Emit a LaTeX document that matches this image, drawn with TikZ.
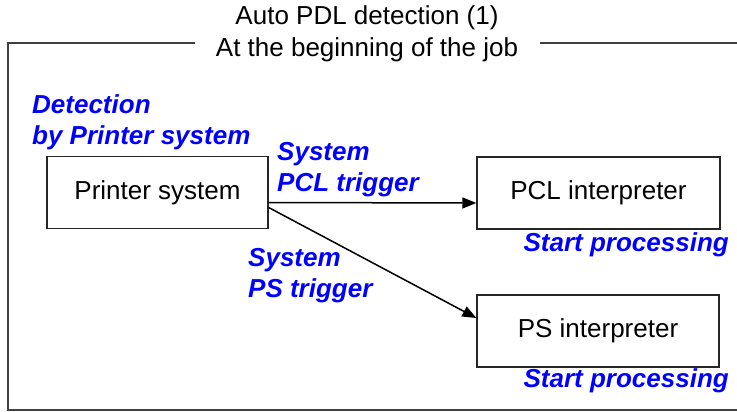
\documentclass[tikz,border=0pt]{standalone}
\usepackage{fontspec}
\setmainfont{Liberation Sans}
\usepackage{xcolor}
\usetikzlibrary{arrows.meta,positioning}

\begin{document}
\begin{tikzpicture}[x=1pt, y=-1pt,
  box/.style={draw=black!85, line width=1.3pt, minimum width=#1, minimum height=72pt, font=\fontsize{26}{32}\selectfont},
  blab/.style={text=blue, align=left, inner sep=0pt, font=\fontsize{26}{31}\selectfont\bfseries\itshape},
  arrow/.style={-{Triangle[length=14pt, width=11pt]}, line width=1.5pt, black},
  frame/.style={line width=2.2pt, draw=black!75},
]
\useasboundingbox (0,0) rectangle (737,412);

\node[align=center, font=\fontsize{26}{32}\selectfont] (title) at (367,34) {Auto PDL detection (1)\\At the beginning of the job};

\draw[frame] (195,43) -- (8,43) -- (8,410) -- (737,410);
\draw[frame] (540,43) -- (737,43);

\node[box=221pt] (psys) at (157.5,192.5) {Printer system};
\node[box=243pt] (pcl) at (598.5,193) {PCL interpreter};
\node[box=242pt] (ps) at (598,331) {PS interpreter};

\node[blab, anchor=west] (detect) at (32,122) {Detection\\by Printer system};
\node[blab, anchor=west] (pcltrig) at (277,170) {System\\PCL trigger};
\node[blab, anchor=west] (pstrig) at (248,276) {System\\PS trigger};
\node[blab, anchor=east] (pclstart) at (729,245) {Start processing};
\node[blab, anchor=east] (psstart) at (729,381) {Start processing};

\draw[arrow] ([yshift=-10pt]psys.east) -- ([yshift=-10pt]pcl.west);
\draw[arrow] ([yshift=-15pt]psys.east) -- ([yshift=13pt]ps.west);

\end{tikzpicture}
\end{document}
